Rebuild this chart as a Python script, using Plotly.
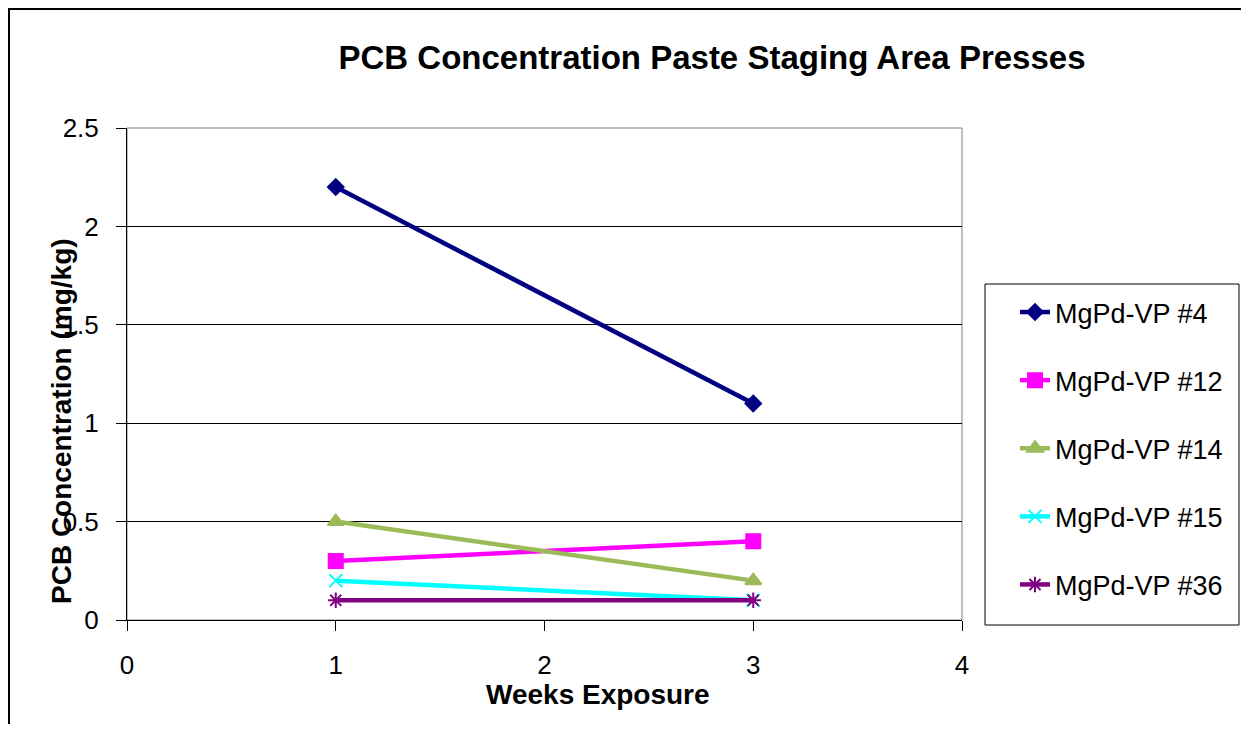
import plotly.graph_objects as go

weeks = [1, 3]
series_names = ["MgPd-VP #4", "MgPd-VP #12", "MgPd-VP #14", "MgPd-VP #15", "MgPd-VP #36"]
vp4 = [2.2, 1.1]
vp12 = [0.3, 0.4]
vp14 = [0.5, 0.2]
vp15 = [0.2, 0.1]
vp36 = [0.1, 0.1]

colors = ["#000080", "#FF00FF", "#9BBB59", "#00FFFF", "#800080"]
symbols = ["diamond", "square", "triangle-up", "x-thin-open", "asterisk-open"]
sizes = [12, 14, 14, 13, 13]

FONT = "Arial, Liberation Sans, sans-serif"

# plot area in page pixels (figure div sits at 8,8 because of body margin)
OFF = 8
L, R, T, B = 127, 962, 128, 620
W, H = 1249 - 2 * OFF, 732 - 2 * OFF


def px_x(px):
    return (px - L) / (R - L)


def px_y(py):
    return (B - py) / (B - T)


def main():
    fig = go.Figure()
    for i, (name, vals) in enumerate(zip(series_names, [vp4, vp12, vp14, vp15, vp36])):
        fig.add_trace(go.Scatter(
            x=weeks, y=vals, name=name, mode="lines+markers",
            legendgroup=name,
            line=dict(color=colors[i], width=4.5),
            marker=dict(symbol=symbols[i], size=sizes[i], color=colors[i],
                        line=dict(color=colors[i], width=2)),
        ))

    fig.update_layout(
        width=W, height=H,
        margin=dict(l=L - OFF, r=OFF + W - R, t=T - OFF, b=OFF + H - B),
        paper_bgcolor="white", plot_bgcolor="white",
        font=dict(family=FONT, size=26, color="black"),
        title=dict(text="<b>PCB Concentration Paste Staging Area Presses</b>",
                   x=px_x(712), xref="paper", xanchor="center",
                   y=1 - (57 - OFF) / H, yref="container", yanchor="middle",
                   font=dict(size=33, family=FONT)),
        legend=dict(x=px_x(1015), y=px_y(288), xanchor="left", yanchor="top",
                    font=dict(size=27, family=FONT), tracegroupgap=30,
                    traceorder="grouped", bgcolor="rgba(0,0,0,0)"),
        xaxis=dict(range=[0, 4], dtick=1, tick0=0, showgrid=False,
                   showline=True, linecolor="black", linewidth=1,
                   ticks="outside", ticklen=10, tickcolor="black",
                   ticklabelstandoff=12, zeroline=False),
        yaxis=dict(range=[0, 2.5], dtick=0.5, tick0=0, showgrid=True,
                   gridcolor="black", gridwidth=1,
                   showline=True, linecolor="black", linewidth=1,
                   ticks="outside", ticklen=10, tickcolor="black",
                   ticklabelstandoff=12, zeroline=False),
    )

    # plot area border (top / right)
    fig.add_shape(type="rect", xref="paper", yref="paper", x0=0, x1=1, y0=0, y1=1,
                  line=dict(color="#808080", width=1), layer="below")
    # legend box
    fig.add_shape(type="rect", xref="paper", yref="paper",
                  x0=px_x(985), x1=px_x(1239), y0=px_y(625), y1=px_y(284),
                  line=dict(color="black", width=1))
    # outer chart frame
    fig.add_shape(type="rect", xref="paper", yref="paper",
                  x0=px_x(9), x1=px_x(1260), y0=px_y(745), y1=px_y(9),
                  line=dict(color="black", width=2))

    fig.add_annotation(text="<b>Weeks Exposure</b>", xref="paper", yref="paper",
                       x=px_x(598), y=px_y(694), xanchor="center", yanchor="middle",
                       showarrow=False, font=dict(size=28, family=FONT))
    fig.add_annotation(text="<b>PCB Concentration (mg/kg)</b>", xref="paper", yref="paper",
                       x=px_x(62), y=px_y(421), xanchor="center", yanchor="middle",
                       showarrow=False, textangle=-90,
                       font=dict(size=28, family=FONT))

    fig.write_html("out.html")


if __name__ == '__main__':
    main()
